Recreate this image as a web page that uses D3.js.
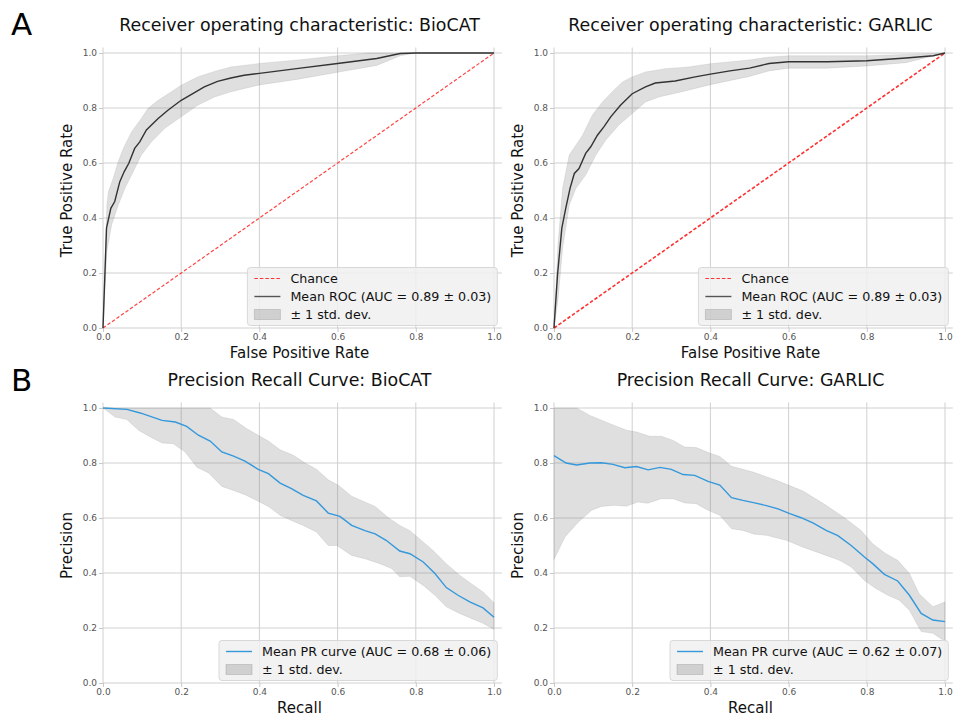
<!DOCTYPE html>
<html><head><meta charset="utf-8">
<script src="https://cdn.jsdelivr.net/npm/d3@7/dist/d3.min.js"></script>
<style>body{margin:0;background:#fff} text{font-family:"DejaVu Sans",sans-serif}</style>
</head><body><svg id="c" width="953" height="717"></svg>
<script>
// ---------- data ----------
const tickValues = [0, 0.2, 0.4, 0.6, 0.8, 1.0];
const tickLabels = ["0.0", "0.2", "0.4", "0.6", "0.8", "1.0"];
const chanceLine = [[0, 0], [1, 1]];

const rocBioMean = [[0,0],[0.009,0.363],[0.02,0.435],[0.03,0.46],[0.043,0.532],[0.054,0.568],[0.066,0.599],[0.081,0.653],[0.094,0.677],[0.111,0.72],[0.124,0.738],[0.141,0.762],[0.166,0.792],[0.2,0.828],[0.234,0.856],[0.259,0.877],[0.293,0.897],[0.327,0.909],[0.361,0.919],[0.4,0.926],[0.5,0.944],[0.6,0.962],[0.7,0.98],[0.76,0.998],[0.8,1.0],[1,1]];
const rocBioUpper = [[0,0],[0.01,0.45],[0.014,0.496],[0.026,0.544],[0.039,0.605],[0.052,0.653],[0.073,0.713],[0.098,0.762],[0.115,0.798],[0.141,0.828],[0.175,0.859],[0.2,0.883],[0.242,0.913],[0.285,0.933],[0.327,0.949],[0.4,0.962],[0.5,0.975],[0.6,0.99],[0.68,1.0],[1,1]];
const rocBioLower = [[0,0],[0.01,0.28],[0.022,0.375],[0.039,0.447],[0.056,0.508],[0.073,0.556],[0.098,0.629],[0.124,0.677],[0.158,0.726],[0.2,0.768],[0.242,0.81],[0.285,0.84],[0.327,0.859],[0.4,0.884],[0.5,0.905],[0.6,0.93],[0.7,0.955],[0.76,0.99],[0.8,1.0],[1,1]];

const rocGarMean = [[0,0],[0.009,0.193],[0.02,0.363],[0.03,0.435],[0.041,0.508],[0.052,0.562],[0.064,0.58],[0.081,0.635],[0.094,0.659],[0.111,0.701],[0.128,0.732],[0.145,0.768],[0.17,0.81],[0.2,0.852],[0.234,0.877],[0.259,0.891],[0.31,0.898],[0.361,0.913],[0.4,0.923],[0.45,0.935],[0.5,0.945],[0.55,0.962],[0.6,0.968],[0.7,0.968],[0.8,0.972],[0.9,0.982],[0.97,0.99],[1,1]];
const rocGarUpper = [[0,0],[0.01,0.3],[0.022,0.508],[0.039,0.629],[0.056,0.665],[0.073,0.701],[0.098,0.774],[0.124,0.822],[0.149,0.859],[0.175,0.895],[0.2,0.913],[0.234,0.931],[0.285,0.943],[0.344,0.949],[0.4,0.961],[0.5,0.975],[0.55,0.985],[0.6,0.99],[0.8,0.99],[0.9,0.995],[1,1]];
const rocGarLower = [[0,0],[0.01,0.1],[0.022,0.29],[0.039,0.447],[0.056,0.508],[0.081,0.556],[0.107,0.629],[0.132,0.683],[0.166,0.738],[0.2,0.78],[0.234,0.822],[0.268,0.84],[0.327,0.859],[0.4,0.885],[0.5,0.915],[0.55,0.935],[0.6,0.945],[0.7,0.945],[0.8,0.953],[0.9,0.965],[1,1]];

const prBioMean = [[0,1.0],[0.061,0.995],[0.095,0.982],[0.151,0.955],[0.185,0.949],[0.214,0.933],[0.244,0.901],[0.274,0.88],[0.304,0.84],[0.334,0.825],[0.363,0.807],[0.397,0.777],[0.423,0.761],[0.453,0.727],[0.482,0.707],[0.512,0.682],[0.546,0.662],[0.576,0.618],[0.606,0.606],[0.636,0.573],[0.67,0.554],[0.696,0.542],[0.725,0.518],[0.759,0.48],[0.785,0.47],[0.819,0.44],[0.849,0.398],[0.878,0.347],[0.908,0.319],[0.938,0.295],[0.972,0.273],[1.0,0.239]];
const prBioUpper = [[0,1],[0.274,1.0],[0.304,0.967],[0.334,0.958],[0.368,0.925],[0.397,0.901],[0.423,0.88],[0.453,0.848],[0.487,0.828],[0.517,0.8],[0.546,0.777],[0.576,0.739],[0.602,0.719],[0.636,0.679],[0.696,0.642],[0.73,0.601],[0.759,0.573],[0.785,0.554],[0.81,0.524],[0.844,0.482],[0.878,0.434],[0.912,0.392],[0.942,0.361],[0.972,0.331],[1.0,0.292]];
const prBioLower = [[0,1],[0.031,0.967],[0.061,0.958],[0.091,0.919],[0.121,0.895],[0.151,0.873],[0.18,0.87],[0.21,0.84],[0.24,0.785],[0.27,0.764],[0.304,0.715],[0.334,0.7],[0.363,0.685],[0.397,0.661],[0.423,0.642],[0.453,0.61],[0.482,0.591],[0.512,0.573],[0.546,0.549],[0.576,0.5],[0.598,0.5],[0.636,0.464],[0.67,0.452],[0.708,0.434],[0.738,0.416],[0.759,0.386],[0.785,0.388],[0.819,0.355],[0.849,0.319],[0.878,0.277],[0.912,0.253],[0.942,0.235],[0.972,0.217],[1.0,0.195]];

const prGarMean = [[0,0.827],[0.031,0.8],[0.058,0.793],[0.092,0.8],[0.122,0.801],[0.151,0.795],[0.181,0.783],[0.211,0.787],[0.241,0.775],[0.271,0.784],[0.3,0.777],[0.33,0.758],[0.36,0.755],[0.394,0.733],[0.424,0.72],[0.454,0.674],[0.483,0.664],[0.513,0.655],[0.543,0.645],[0.573,0.633],[0.603,0.616],[0.632,0.601],[0.662,0.582],[0.696,0.555],[0.726,0.536],[0.76,0.5],[0.794,0.458],[0.815,0.434],[0.845,0.395],[0.879,0.371],[0.909,0.319],[0.939,0.253],[0.969,0.229],[1.0,0.223]];
const prGarUpper = [[0,1],[0.058,1],[0.092,0.973],[0.143,0.943],[0.186,0.919],[0.211,0.913],[0.245,0.897],[0.275,0.897],[0.305,0.882],[0.334,0.858],[0.364,0.856],[0.398,0.836],[0.424,0.824],[0.454,0.788],[0.509,0.767],[0.569,0.737],[0.637,0.698],[0.696,0.646],[0.743,0.601],[0.786,0.554],[0.815,0.506],[0.849,0.47],[0.879,0.446],[0.909,0.398],[0.934,0.325],[0.969,0.277],[1.0,0.295]];
const prGarLower = [[0,0.449],[0.028,0.531],[0.062,0.585],[0.096,0.628],[0.121,0.642],[0.155,0.646],[0.185,0.643],[0.214,0.658],[0.24,0.654],[0.274,0.67],[0.305,0.67],[0.334,0.655],[0.364,0.652],[0.394,0.628],[0.424,0.61],[0.454,0.561],[0.483,0.555],[0.513,0.541],[0.543,0.537],[0.594,0.519],[0.637,0.494],[0.696,0.464],[0.73,0.446],[0.76,0.422],[0.794,0.373],[0.824,0.343],[0.854,0.319],[0.883,0.301],[0.909,0.265],[0.939,0.187],[0.969,0.181],[1.0,0.151]];

const titles = ["Receiver operating characteristic: BioCAT", "Receiver operating characteristic: GARLIC", "Precision Recall Curve: BioCAT", "Precision Recall Curve: GARLIC"];
const rocLegend = ["Chance", "Mean ROC (AUC = 0.89 \u00b1 0.03)", "\u00b1 1 std. dev."];
const prLegendBio = ["Mean PR curve (AUC = 0.68 \u00b1 0.06)", "\u00b1 1 std. dev."];
const prLegendGar = ["Mean PR curve (AUC = 0.62 \u00b1 0.07)", "\u00b1 1 std. dev."];

// ---------- drawing ----------
const svg = d3.select("#c");
const W = 391, H = 275, EXT = 1.02;
const lineCol = "#333", prCol = "#3498db", chanceCol = "#ff3030";

function panel(cfg) {
  const x = d3.scaleLinear().domain([0, EXT]).range([cfg.left, cfg.left + W * EXT]);
  const y = d3.scaleLinear().domain([0, EXT]).range([cfg.bottom, cfg.bottom - H * EXT]);
  const g = svg.append("g");
  // grid
  g.append("g").selectAll("line").data(tickValues).join("line")
    .attr("x1", d => x(d)).attr("x2", d => x(d)).attr("y1", y(0)).attr("y2", y(EXT))
    .attr("stroke", "#d0d0d0").attr("stroke-width", 1);
  g.append("g").selectAll("line").data(tickValues).join("line")
    .attr("y1", d => y(d)).attr("y2", d => y(d)).attr("x1", x(0)).attr("x2", x(EXT))
    .attr("stroke", "#d0d0d0").attr("stroke-width", 1);
  // axes ticks
  const fmt = (d, i) => tickLabels[i];
  const ax = g.append("g").attr("transform", `translate(0,${y(0)})`)
    .call(d3.axisBottom(x).tickValues(tickValues).tickFormat(fmt).tickSize(4).tickPadding(2));
  const ay = g.append("g").attr("transform", `translate(${x(0)},0)`)
    .call(d3.axisLeft(y).tickValues(tickValues).tickFormat(fmt).tickSize(4).tickPadding(2));
  [ax, ay].forEach(a => {
    a.select(".domain").remove();
    a.selectAll(".tick line").attr("stroke", "#c8c8c8");
    a.selectAll("text").attr("fill", "#555").style("font-size", "9px").style("font-family", "DejaVu Sans");
  });
  const line = d3.line().x(d => x(d[0])).y(d => y(d[1]));
  // band
  const poly = cfg.upper.concat(cfg.lower.slice().reverse());
  g.append("path").attr("d", line(poly) + "Z").attr("fill", "grey").attr("fill-opacity", 0.25)
    .attr("stroke", "grey").attr("stroke-opacity", 0.2).attr("stroke-width", 0.8);
  if (cfg.chance) {
    g.append("path").attr("d", line(chanceLine)).attr("fill", "none").attr("stroke", chanceCol)
      .attr("stroke-opacity", cfg.chanceOpacity).attr("stroke-width", cfg.chanceWidth).attr("stroke-dasharray", "3.5,2");
  }
  g.append("path").attr("d", line(cfg.mean)).attr("fill", "none").attr("stroke", cfg.color).attr("stroke-width", 1.4);
  // title & labels
  const cx = (x(0) + x(1)) / 2 + 1;
  g.append("text").attr("x", cx).attr("y", y(1) - 22).attr("text-anchor", "middle")
    .style("font-size", "17.4px").attr("fill", "#111").text(cfg.title);
  g.append("text").attr("x", cx).attr("y", y(0) + 30).attr("text-anchor", "middle")
    .style("font-size", "15px").attr("fill", "#111").text(cfg.xlabel);
  g.append("text").attr("transform", `translate(${x(0) - 31},${(y(0) + y(1)) / 2}) rotate(-90)`)
    .attr("text-anchor", "middle").style("font-size", "15px").attr("fill", "#111").text(cfg.ylabel);
  // legend
  const items = cfg.legend;
  const lg = g.append("g");
  const box = lg.append("rect").attr("rx", 3).attr("fill", "#f0f0f0").attr("fill-opacity", 0.85)
    .attr("stroke", "#d8d8d8").attr("stroke-width", 1);
  let maxW = 0;
  const texts = items.map((it, i) => {
    const t = lg.append("text").style("font-size", "12.7px").attr("fill", "#111").text(it.label);
    maxW = Math.max(maxW, t.node().getComputedTextLength());
    return t;
  });
  const bw = 43 + maxW + 6, bh = 18 * items.length + 4;
  const bx = x(EXT) - 4.5 - bw, by = y(0) - 2.5 - bh;
  box.attr("x", bx).attr("y", by).attr("width", bw).attr("height", bh);
  items.forEach((it, i) => {
    const cy = by + 11 + i * 18;
    texts[i].attr("x", bx + 43).attr("y", cy + 4.5);
    if (it.type === "band") {
      lg.append("rect").attr("x", bx + 7).attr("y", cy - 5).attr("width", 26).attr("height", 10)
        .attr("fill", "grey").attr("fill-opacity", 0.3).attr("stroke", "grey").attr("stroke-opacity", 0.3);
    } else {
      lg.append("line").attr("x1", bx + 7).attr("x2", bx + 33).attr("y1", cy).attr("y2", cy)
        .attr("stroke", it.color).attr("stroke-width", it.dash ? 1.2 : 1.4)
        .attr("stroke-dasharray", it.dash ? "3.5,2" : null);
    }
  });
}

const rocItems = [
  {label: rocLegend[0], color: chanceCol, dash: true},
  {label: rocLegend[1], color: "#555"},
  {label: rocLegend[2], type: "band"}
];
panel({left: 103, bottom: 328, title: titles[0], xlabel: "False Positive Rate", ylabel: "True Positive Rate",
  mean: rocBioMean, upper: rocBioUpper, lower: rocBioLower, color: lineCol, chance: true, chanceWidth: 1.2, chanceOpacity: 0.9, legend: rocItems});
panel({left: 554, bottom: 328, title: titles[1], xlabel: "False Positive Rate", ylabel: "True Positive Rate",
  mean: rocGarMean, upper: rocGarUpper, lower: rocGarLower, color: lineCol, chance: true, chanceWidth: 1.6, chanceOpacity: 1, legend: rocItems});
panel({left: 103, bottom: 683, title: titles[2], xlabel: "Recall", ylabel: "Precision",
  mean: prBioMean, upper: prBioUpper, lower: prBioLower, color: prCol, chance: false,
  legend: [{label: prLegendBio[0], color: prCol}, {label: prLegendBio[1], type: "band"}]});
panel({left: 554, bottom: 683, title: titles[3], xlabel: "Recall", ylabel: "Precision",
  mean: prGarMean, upper: prGarUpper, lower: prGarLower, color: prCol, chance: false,
  legend: [{label: prLegendGar[0], color: prCol}, {label: prLegendGar[1], type: "band"}]});

svg.append("text").attr("x", 11).attr("y", 35).style("font-size", "31px").attr("fill", "#000").text("A");
svg.append("text").attr("x", 11).attr("y", 391).style("font-size", "31px").attr("fill", "#000").text("B");
</script></body></html>
